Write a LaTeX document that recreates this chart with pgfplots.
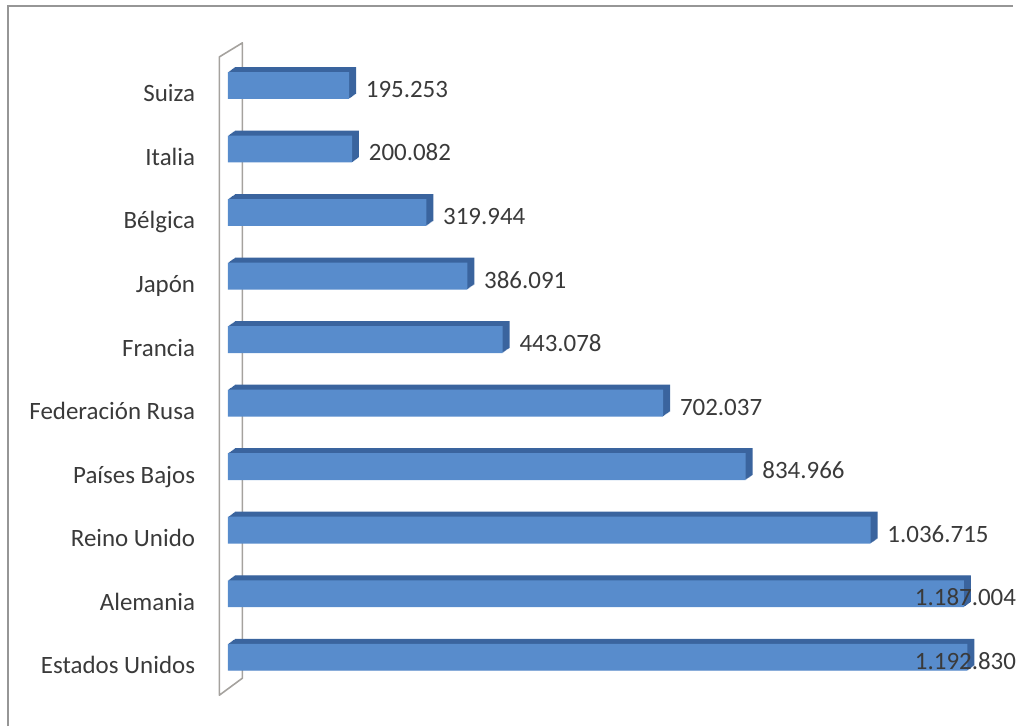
\documentclass[border=0pt]{standalone}
\usepackage{fontspec}
\setmainfont{Carlito}
\usepackage{pgfplots}
\usepackage{pgfplotstable}
\pgfplotsset{compat=1.18}
\definecolor{barfront}{RGB}{88,140,204}
\definecolor{barside}{RGB}{58,100,158}
\definecolor{wallgray}{RGB}{165,162,158}
\definecolor{framegray}{RGB}{150,150,150}
\definecolor{txt}{RGB}{58,58,58}

\pgfplotstableread{
idx val lx lab
0 1192830 1107600 1.192.830
1 1187004 1107600 1.187.004
2 1036715 1063265 1.036.715
3 834966 861516 834.966
4 702037 728587 702.037
5 443078 469628 443.078
6 386091 412641 386.091
7 319944 346494 319.944
8 200082 226632 200.082
9 195253 221803 195.253
}\datatable

\begin{document}
\begin{tikzpicture}
\begin{axis}[
  scale only axis, width=508bp, height=364bp,
  xmin=-367800, xmax=1266900, ymin=-1.0832, ymax=10.3454,
  axis line style={draw=none}, tick style={draw=none}, major tick length=0pt,
  xtick=\empty, ytick={0,...,9},
  yticklabels={Estados Unidos, Alemania, Reino Unido, Países Bajos, Federación Rusa, Francia, Japón, Bélgica, Italia, Suiza},
  yticklabel style={anchor=base east, inner sep=0pt, xshift=98bp, yshift=-8.25bp,
    font=\fontsize{12.5bp}{15bp}\selectfont, text=txt},
  clip=false,
]
% frame
\draw[framegray, line width=1bp] (axis cs:-354940,-1.0832) -- (axis cs:-354940,10.2512) -- (axis cs:1266900,10.2512);
% 3D wall
\draw[wallgray, line width=0.8bp, line join=round] (axis cs:-13840,9.4505) -- (axis cs:23170,9.670) -- (axis cs:23170,-0.3297) -- (axis cs:-13840,-0.5966) -- cycle;
% bar depth
\pgfplotsinvokeforeach{7,6,5,4,3,2,1}{
  \addplot[xbar, bar shift=0pt, bar width=13.5bp, fill=barside, draw=none, xshift=#1*0.5bp, yshift=#1*0.357bp]
    table[x=val, y=idx]{\datatable};
}
% bar front
\addplot[xbar, bar shift=0pt, bar width=13.5bp, draw=none, fill=barfront]
  table[x=val, y=idx]{\datatable};
% value labels
\addplot[draw=none, mark=none, nodes near coords={\pgfplotspointmeta}, point meta=explicit symbolic,
  every node near coord/.append style={anchor=base west, inner sep=0pt, yshift=-6bp,
    font=\fontsize{12.5bp}{15bp}\selectfont, text=txt}]
  table[x=lx, y=idx, meta=lab]{\datatable};
\end{axis}
\end{tikzpicture}
\end{document}
